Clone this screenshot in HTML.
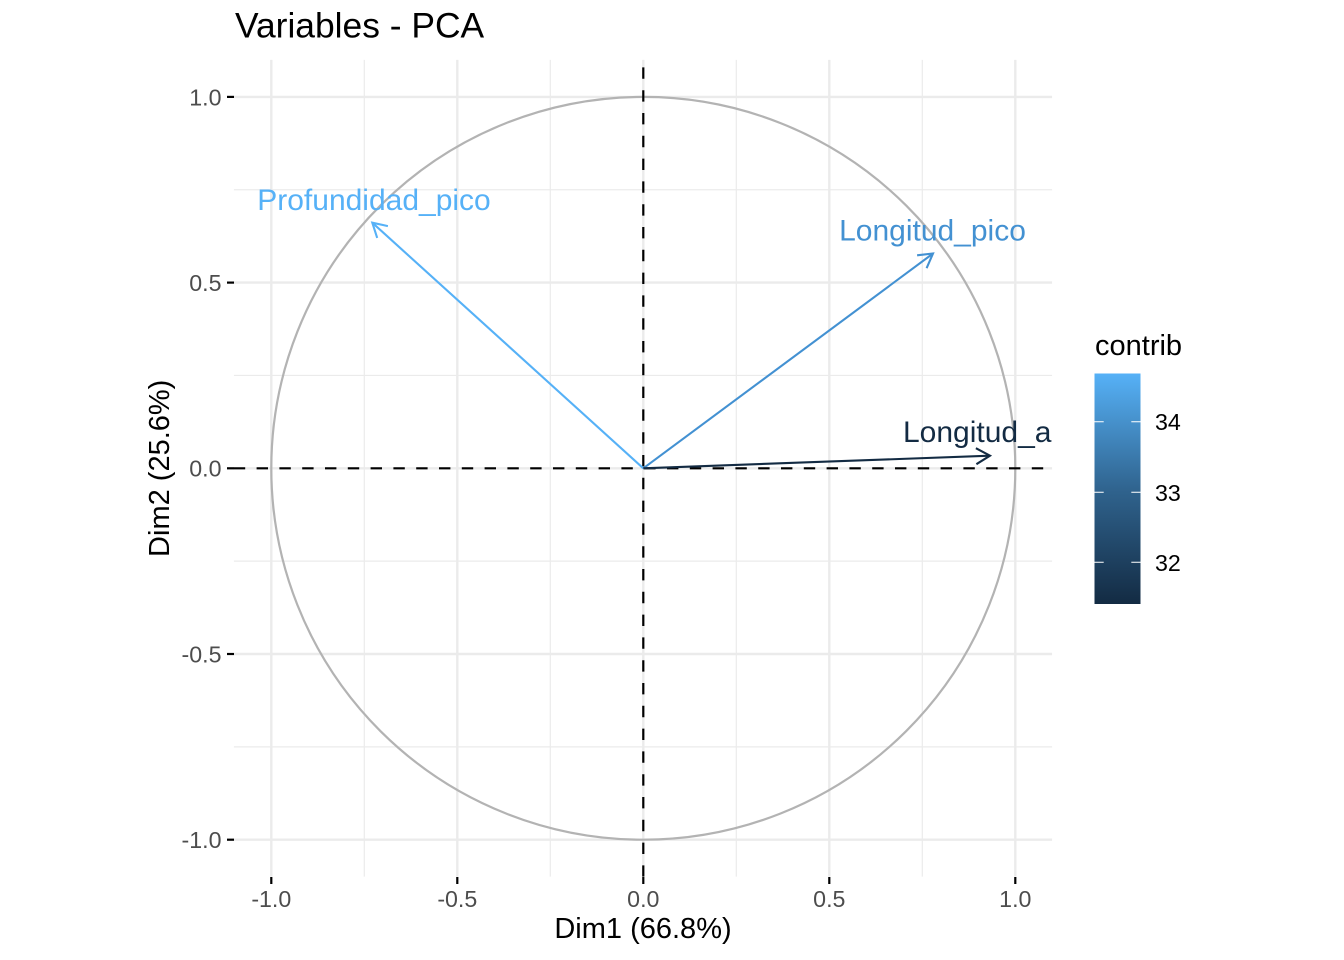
<!DOCTYPE html>
<html>
<head>
<meta charset="utf-8">
<style>
  html, body { margin:0; padding:0; background:#ffffff; }
  svg { display:block; }
  text { font-family: "Liberation Sans", "DejaVu Sans", sans-serif; }
</style>
</head>
<body>
<svg width="1344" height="960" viewBox="0 0 1344 960" xmlns="http://www.w3.org/2000/svg">
  <defs>
    <clipPath id="panel">
      <rect x="233.8" y="59.8" width="818.4" height="817"/>
    </clipPath>
    <linearGradient id="cbar" x1="0" y1="1" x2="0" y2="0">
      <stop offset="0" stop-color="#132B43"/>
      <stop offset="0.5" stop-color="#30648F"/>
      <stop offset="1" stop-color="#56B1F7"/>
    </linearGradient>
  </defs>
  <rect width="1344" height="960" fill="#ffffff"/>

  <!-- Title -->
  <text x="235" y="37.5" font-size="35.4" fill="#000000">Variables - PCA</text>

  <g clip-path="url(#panel)">
    <!-- minor grid -->
    <g stroke="#EBEBEB" stroke-width="1.2">
      <line x1="364.3" y1="59.8" x2="364.3" y2="876.8"/>
      <line x1="550.3" y1="59.8" x2="550.3" y2="876.8"/>
      <line x1="736.3" y1="59.8" x2="736.3" y2="876.8"/>
      <line x1="922.3" y1="59.8" x2="922.3" y2="876.8"/>
      <line x1="233.8" y1="189.75" x2="1052.2" y2="189.75"/>
      <line x1="233.8" y1="375.45" x2="1052.2" y2="375.45"/>
      <line x1="233.8" y1="561.15" x2="1052.2" y2="561.15"/>
      <line x1="233.8" y1="746.85" x2="1052.2" y2="746.85"/>
    </g>
    <!-- major grid -->
    <g stroke="#EBEBEB" stroke-width="2.4">
      <line x1="271.3" y1="59.8" x2="271.3" y2="876.8"/>
      <line x1="457.3" y1="59.8" x2="457.3" y2="876.8"/>
      <line x1="643.3" y1="59.8" x2="643.3" y2="876.8"/>
      <line x1="829.3" y1="59.8" x2="829.3" y2="876.8"/>
      <line x1="1015.3" y1="59.8" x2="1015.3" y2="876.8"/>
      <line x1="233.8" y1="96.9" x2="1052.2" y2="96.9"/>
      <line x1="233.8" y1="282.6" x2="1052.2" y2="282.6"/>
      <line x1="233.8" y1="468.3" x2="1052.2" y2="468.3"/>
      <line x1="233.8" y1="654" x2="1052.2" y2="654"/>
      <line x1="233.8" y1="839.7" x2="1052.2" y2="839.7"/>
    </g>

    <!-- correlation circle -->
    <ellipse cx="643.3" cy="468.3" rx="372" ry="371.4" fill="none" stroke="#B3B3B3" stroke-width="2.2"/>

    <!-- dashed axes -->
    <line x1="643.3" y1="876.8" x2="643.3" y2="59.8" stroke="#000000" stroke-width="2.2" stroke-dasharray="11.4 11.4"/>
    <line x1="233.8" y1="468.3" x2="1052.2" y2="468.3" stroke="#000000" stroke-width="2.2" stroke-dasharray="11.4 11.4"/>

    <!-- arrows -->
    <g fill="none" stroke-width="2.1" stroke-linecap="butt" stroke-linejoin="miter">
      <line x1="643.3" y1="468.3" x2="372.3" y2="222.7" stroke="#56B1F7"/>
      <polyline points="377.2,237.9 372.3,222.7 387.9,226.1" stroke="#56B1F7"/>

      <line x1="643.3" y1="468.3" x2="933" y2="253.5" stroke="#4391D2"/>
      <polyline points="917.1,255.3 933,253.5 926.6,268.2" stroke="#4391D2"/>

      <line x1="643.3" y1="468.3" x2="990" y2="455.7" stroke="#132B43"/>
      <polyline points="975.9,448.2 990,455.7 976.4,464.2" stroke="#132B43"/>
    </g>

    <!-- labels -->
    <text x="374" y="210" font-size="30" fill="#56B1F7" text-anchor="middle">Profundidad_pico</text>
    <text x="932.5" y="240.5" font-size="30" fill="#4391D2" text-anchor="middle">Longitud_pico</text>
    <text x="903" y="442" font-size="30" fill="#132B43">Longitud_a</text>
  </g>

  <!-- axis ticks -->
  <g stroke="#000000" stroke-width="2.2">
    <line x1="271.3" y1="877" x2="271.3" y2="884"/>
    <line x1="457.3" y1="877" x2="457.3" y2="884"/>
    <line x1="643.3" y1="877" x2="643.3" y2="884"/>
    <line x1="829.3" y1="877" x2="829.3" y2="884"/>
    <line x1="1015.3" y1="877" x2="1015.3" y2="884"/>
    <line x1="227" y1="96.9" x2="234" y2="96.9"/>
    <line x1="227" y1="282.6" x2="234" y2="282.6"/>
    <line x1="227" y1="468.3" x2="234" y2="468.3"/>
    <line x1="227" y1="654" x2="234" y2="654"/>
    <line x1="227" y1="839.7" x2="234" y2="839.7"/>
  </g>

  <!-- x tick labels -->
  <g font-size="23.2" fill="#4D4D4D" text-anchor="middle">
    <text x="271.3" y="907">-1.0</text>
    <text x="457.3" y="907">-0.5</text>
    <text x="643.3" y="907">0.0</text>
    <text x="829.3" y="907">0.5</text>
    <text x="1015.3" y="907">1.0</text>
  </g>
  <!-- y tick labels -->
  <g font-size="23.2" fill="#4D4D4D" text-anchor="end">
    <text x="221.5" y="105.3">1.0</text>
    <text x="221.5" y="291">0.5</text>
    <text x="221.5" y="476.7">0.0</text>
    <text x="221.5" y="662.4">-0.5</text>
    <text x="221.5" y="848.1">-1.0</text>
  </g>

  <!-- axis titles -->
  <text x="643" y="938" font-size="29" fill="#000000" text-anchor="middle">Dim1 (66.8%)</text>
  <text transform="translate(169,468.3) rotate(-90)" font-size="29" fill="#000000" text-anchor="middle">Dim2 (25.6%)</text>

  <!-- legend -->
  <text x="1095" y="355" font-size="29" fill="#000000">contrib</text>
  <rect x="1094.5" y="373.5" width="46" height="230.5" fill="url(#cbar)"/>
  <g stroke="#FFFFFF" stroke-width="1.2" stroke-opacity="0.85">
    <line x1="1094.5" y1="421.7" x2="1103.7" y2="421.7"/>
    <line x1="1131.3" y1="421.7" x2="1140.5" y2="421.7"/>
    <line x1="1094.5" y1="492.3" x2="1103.7" y2="492.3"/>
    <line x1="1131.3" y1="492.3" x2="1140.5" y2="492.3"/>
    <line x1="1094.5" y1="562.3" x2="1103.7" y2="562.3"/>
    <line x1="1131.3" y1="562.3" x2="1140.5" y2="562.3"/>
  </g>
  <g font-size="23.2" fill="#000000">
    <text x="1155" y="430.2">34</text>
    <text x="1155" y="500.8">33</text>
    <text x="1155" y="570.8">32</text>
  </g>
</svg>
</body>
</html>
